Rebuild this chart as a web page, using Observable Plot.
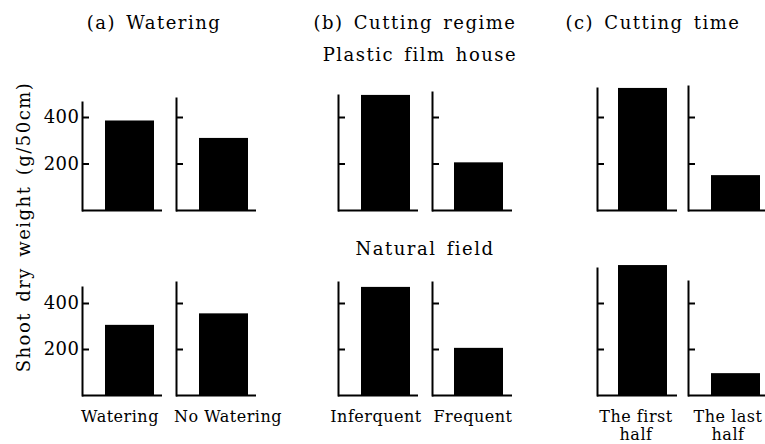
<!DOCTYPE html>
<html><head><meta charset="utf-8">
<script src="https://cdn.jsdelivr.net/npm/d3@7"></script>
<script src="https://cdn.jsdelivr.net/npm/@observablehq/plot@0.6"></script>
<style>
body{margin:0;background:#fff;}
#fig{position:relative;width:765px;height:444px;overflow:hidden;font-family:"DejaVu Serif",serif;color:#000;}
.t{position:absolute;white-space:nowrap;font-size:18px;letter-spacing:1.5px;word-spacing:3px;line-height:1;transform:translateX(-50%);}
.p{position:absolute;}
</style></head><body><div id="fig"></div>
<script>
const groups = ["(a) Watering", "(b) Cutting regime", "(c) Cutting time"];
const rows = ["Plastic film house", "Natural field"];
const categories = ["Watering", "No Watering", "Inferquent", "Frequent", "The first\nhalf", "The last\nhalf"];
const plasticFilmHouse = [385, 310, 495, 205, 525, 150];
const naturalField = [305, 355, 470, 205, 565, 95];
const yTicks = [200, 400];
const yLabel = "Shoot dry weight (g/50cm)";

const fig = document.getElementById("fig");
function addText(txt, cx, top, extra) {
  const d = document.createElement("div");
  d.className = "t"; d.textContent = txt;
  d.style.left = cx + "px"; d.style.top = top + "px";
  if (extra) Object.assign(d.style, extra);
  fig.appendChild(d);
}
const groupCx = [154, 415, 653];
groups.forEach((g, i) => addText(g, groupCx[i], 14));
addText(rows[0], 420, 46);
addText(rows[1], 425, 240);
addText(yLabel, 24, 218, {transform: "translateX(-50%) rotate(-90deg)"});

// layout (pixel geometry of each panel)
const axisX = [82, 176, 338, 432, 597, 688];
const baseY = [210, 395];
const tick400Y = [117, 303];
const axisTopY = [[102, 98, 95, 92, 88, 86], [287, 282, 282, 282, 268, 281]];
const barOff = [23, 23, 23, 22, 21, 23];
const labelDx = [-10, 4, -10, -6, -7, -8];
const barW = 49, innerW = 80, ML = 44, MR = 4, MT = 16;
const MB = [4, 56];
const series = [plasticFilmHouse, naturalField];

series.forEach((vals, r) => {
  const k = (baseY[r] - tick400Y[r]) / 400;
  vals.forEach((v, i) => {
    const cat = categories[i];
    const top = axisTopY[r][i];
    const frameH = baseY[r] - top;
    const data = [{cat, value: v}];
    const marks = [
      Plot.barY(data, {x: "cat", y: "value", fill: "#000"}),
      Plot.ruleY([0], {strokeWidth: 2}),
      Plot.frame({anchor: "left", strokeWidth: 2}),
      Plot.tickY(yTicks, {y: d => d, strokeWidth: 2, insetRight: innerW - 7})
    ];
    if (i === 0) marks.push(Plot.axisY({ticks: yTicks, tickSize: 0, tickPadding: 3, stroke: "none", label: null, fontSize: 18}));
    if (r === 1) marks.push(Plot.axisX({tickSize: 0, tickPadding: 13, dx: labelDx[i], label: null, lineHeight: 1.15, fontSize: 16}));
    const svg = Plot.plot({
      width: ML + innerW + MR,
      height: MT + frameH + MB[r],
      marginLeft: ML, marginRight: MR, marginTop: MT, marginBottom: MB[r],
      style: {fontFamily: "'DejaVu Serif', serif", fontSize: "16px", background: "transparent", overflow: "visible", letterSpacing: "0.5px", color: "#000"},
      x: {type: "band", domain: [cat], range: [ML + barOff[i], ML + barOff[i] + barW], padding: 0, axis: null},
      y: {domain: [0, frameH / k], axis: null},
      marks
    });
    svg.classList.add("p");
    svg.style.left = (axisX[i] - ML) + "px";
    svg.style.top = (top - MT) + "px";
    fig.appendChild(svg);
  });
});
</script></body></html>
